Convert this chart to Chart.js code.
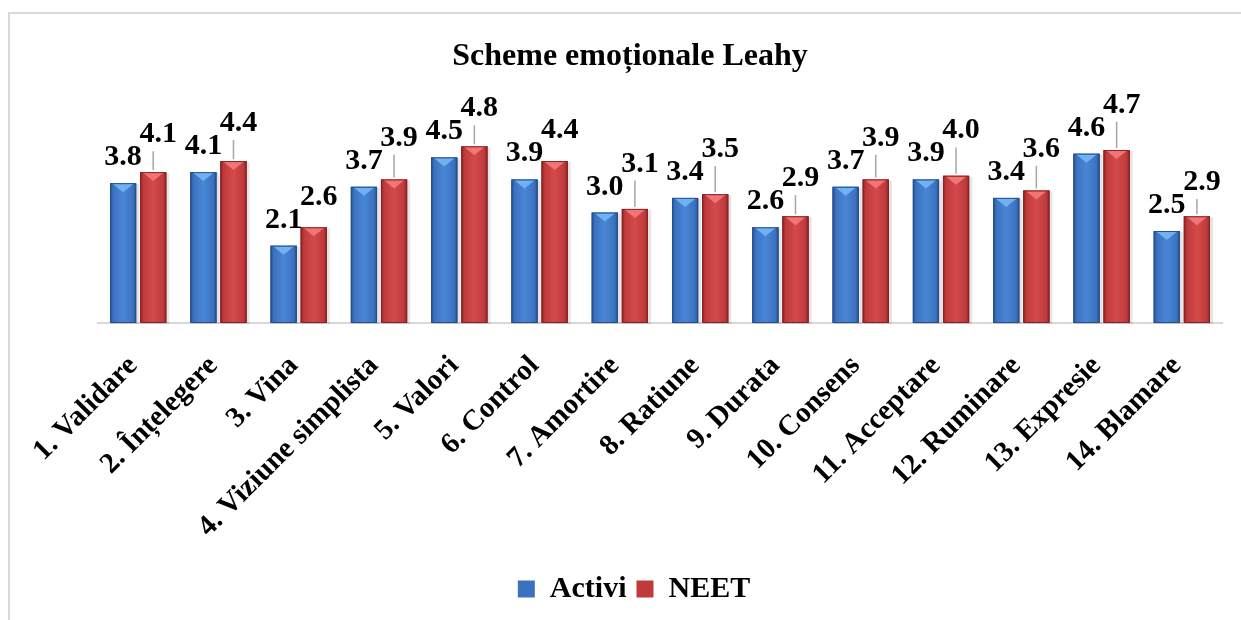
<!DOCTYPE html>
<html><head><meta charset="utf-8">
<script src="https://cdn.jsdelivr.net/npm/chart.js@4/dist/chart.umd.min.js"></script>
<style>
html,body{margin:0;padding:0;background:#fff;overflow:hidden;}
#wrap{position:absolute;left:0;top:0;width:1241px;height:620px;}
#frame{position:absolute;left:8px;top:12px;width:1400px;height:800px;border-left:2px solid #d9d9d9;border-top:2px solid #d9d9d9;}
canvas{position:absolute;left:0;top:0;}
</style></head><body>
<div id="wrap"><div id="frame"></div><canvas id="c" width="1241" height="620" style="width:1241px;height:620px"></canvas></div>
<script>
const chartTitle = 'Scheme emoționale Leahy';
const categories = ['1. Validare','2. Înțelegere','3. Vina','4. Viziune simplista','5. Valori','6. Control','7. Amortire','8. Ratiune','9. Durata','10. Consens','11. Acceptare','12. Ruminare','13. Expresie','14. Blamare'];
const seriesNames = ['Activi','NEET'];
const activi = [3.8,4.1,2.1,3.7,4.5,3.9,3.0,3.4,2.6,3.7,3.9,3.4,4.6,2.5];
const neet   = [4.1,4.4,2.6,3.9,4.8,4.4,3.1,3.5,2.9,3.9,4.0,3.6,4.7,2.9];

const SERIF = '"Liberation Serif","Times New Roman",serif';
const palette = [
  {base:'#3b72c0', edge:'#264f8c', mid:'#4a86d6', cap:'#6fb2f2'},
  {base:'#c0393b', edge:'#8a2224', mid:'#d24a4c', cap:'#f27575'}
];

const shiftPlugin = {
  id:'shiftBlocks',
  afterLayout(chart){
    const lg = chart.legend;
    if (lg && !lg._shifted) { lg.left -= 26; lg.right -= 26; lg._shifted = true; }
    const tb = chart.titleBlock;
    if (tb && !tb._shifted) { tb.left -= 30; tb.right -= 30; tb._shifted = true; }
  }
};

const shadePlugin = {
  id:'shade',
  afterDatasetDraw(chart, args){
    const ctx = chart.ctx, pal = palette[args.index];
    const meta = args.meta;
    ctx.save();
    meta.data.forEach(el=>{
      const p = el.getProps(['x','y','base','width'], true);
      const l = p.x - p.width/2, r = p.x + p.width/2, t = p.y, b = p.base;
      ctx.fillStyle = 'rgba(0,0,0,0.10)';
      ctx.fillRect(l+1, t+1, p.width+2, b-t);
      const g = ctx.createLinearGradient(l,0,r,0);
      g.addColorStop(0, pal.edge);
      g.addColorStop(0.12, pal.base);
      g.addColorStop(0.5, pal.mid);
      g.addColorStop(0.88, pal.base);
      g.addColorStop(1, pal.edge);
      ctx.fillStyle = g;
      ctx.fillRect(l, t, p.width, b-t);
      const h = Math.min(9, (b-t)/3);
      ctx.fillStyle = pal.cap;
      ctx.beginPath();
      ctx.moveTo(l+2, t);
      ctx.lineTo(r-2, t);
      ctx.lineTo(p.x, t+h);
      ctx.closePath();
      ctx.fill();
      ctx.strokeStyle = pal.edge;
      ctx.lineWidth = 1;
      ctx.strokeRect(l+0.5, t+0.5, p.width-1, b-t-1);
    });
    ctx.restore();
  }
};

const labelPlugin = {
  id:'vlabels',
  afterDatasetsDraw(chart){
    const ctx = chart.ctx;
    const m0 = chart.getDatasetMeta(0), m1 = chart.getDatasetMeta(1);
    ctx.save();
    ctx.font = 'bold 30px ' + SERIF;
    ctx.fillStyle = '#000';
    ctx.textAlign = 'center';
    ctx.textBaseline = 'alphabetic';
    const H = 20;
    m0.data.forEach((e0,i)=>{
      const e1 = m1.data[i];
      const t0 = chart.data.datasets[0].data[i].toFixed(1);
      const t1 = chart.data.datasets[1].data[i].toFixed(1);
      const w0 = ctx.measureText(t0).width, w1 = ctx.measureText(t1).width;
      const b0 = e0.y - 18;
      ctx.fillText(t0, e0.x, b0);
      const x1 = e1.x + 5;
      let b1 = e1.y - 19;
      const overlapX = (x1 - w1/2) < (e0.x + w0/2);
      const overlapY = b1 > b0 - H - 2;
      if (overlapX && overlapY) b1 = b0 - H - 3;
      if (e1.y - b1 > 26) {
        ctx.strokeStyle = '#a6a6a6';
        ctx.lineWidth = 1.5;
        ctx.beginPath();
        ctx.moveTo(e1.x, e1.y - 2);
        ctx.lineTo(e1.x, b1 + 9);
        ctx.stroke();
      }
      ctx.fillText(t1, x1, b1);
    });
    ctx.restore();
  }
};

new Chart(document.getElementById('c'), {
  type:'bar',
  data:{
    labels: categories,
    datasets:[
      {label:seriesNames[0], data:activi, backgroundColor:palette[0].base},
      {label:seriesNames[1], data:neet, backgroundColor:palette[1].base}
    ]
  },
  options:{
    responsive:false,
    animation:false,
    events:[],
    categoryPercentage:0.75,
    barPercentage:0.87,
    layout:{padding:{left:98,right:19,top:0,bottom:6}},
    plugins:{
      title:{display:true,text:chartTitle,color:'#000',font:{family:SERIF,size:32,weight:'bold'},padding:{top:38,bottom:35}},
      legend:{position:'bottom',labels:{color:'#000',font:{family:SERIF,size:30,weight:'bold'},boxWidth:17,boxHeight:17,padding:10}},
      tooltip:{enabled:false}
    },
    scales:{
      x:{
        grid:{display:false,drawTicks:false},
        border:{display:true,color:'#d9d9d9',width:2},
        ticks:{color:'#000',font:{family:SERIF,size:29,weight:'bold'},maxRotation:45,minRotation:45,padding:26,labelOffset:-5,autoSkip:false},
        afterFit(s){ s.height = 241; }
      },
      y:{display:false,min:0,max:5.75}
    }
  },
  plugins:[shiftPlugin,shadePlugin,labelPlugin]
});
</script>
</body></html>
